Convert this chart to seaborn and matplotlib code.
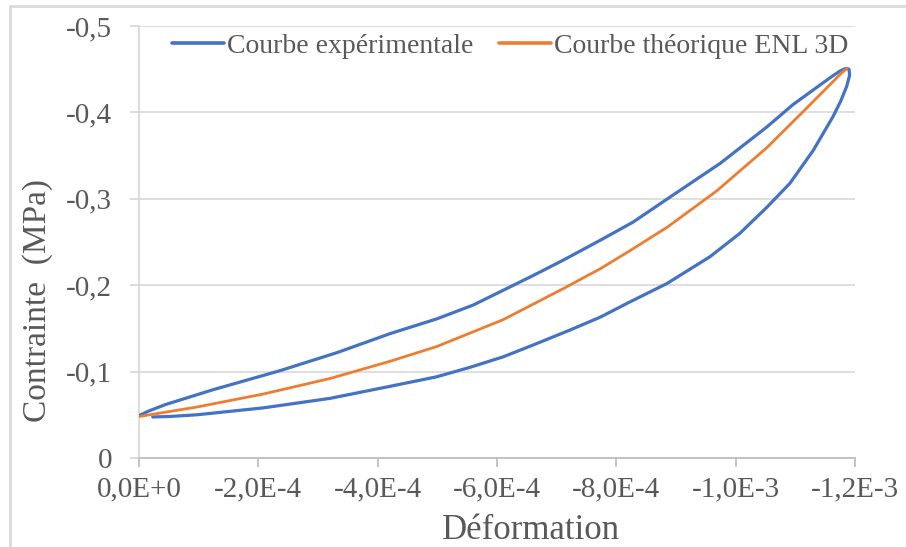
import matplotlib
matplotlib.use("Agg")
import matplotlib.pyplot as plt
from matplotlib.lines import Line2D
from matplotlib.ticker import FuncFormatter
import seaborn as sns
import pandas as pd

# Experimental hysteresis loop: loading branch, then unloading branch
exp_strain = [0.0, -0.015e-3, -0.045e-3, -0.124e-3, -0.236e-3, -0.332e-3, -0.421e-3,
              -0.499e-3, -0.560e-3, -0.610e-3, -0.660e-3, -0.711e-3, -0.773e-3,
              -0.828e-3, -0.890e-3, -0.974e-3, -1.052e-3, -1.096e-3, -1.136e-3,
              -1.160e-3, -1.175e-3, -1.185e-3, -1.190e-3, -1.191e-3,
              -1.186e-3, -1.176e-3, -1.163e-3, -1.130e-3, -1.091e-3, -1.052e-3,
              -1.007e-3, -0.957e-3, -0.885e-3, -0.818e-3, -0.773e-3, -0.722e-3,
              -0.665e-3, -0.610e-3, -0.555e-3, -0.499e-3, -0.421e-3, -0.320e-3,
              -0.208e-3, -0.097e-3, -0.050e-3, -0.023e-3]
exp_stress = [-0.049, -0.054, -0.062, -0.079, -0.101, -0.122, -0.144,
              -0.161, -0.177, -0.194, -0.211, -0.229, -0.252,
              -0.273, -0.302, -0.341, -0.383, -0.409, -0.429,
              -0.441, -0.448, -0.451, -0.450, -0.443,
              -0.430, -0.413, -0.395, -0.356, -0.318, -0.290,
              -0.260, -0.233, -0.202, -0.179, -0.163, -0.148,
              -0.132, -0.117, -0.105, -0.094, -0.083, -0.069,
              -0.058, -0.050, -0.048, -0.0475]

# Theoretical ENL 3D curve
th_strain = [0.0, -0.097e-3, -0.208e-3, -0.320e-3, -0.421e-3, -0.499e-3,
             -0.610e-3, -0.711e-3, -0.773e-3, -0.823e-3, -0.885e-3, -0.968e-3,
             -1.052e-3, -1.119e-3, -1.178e-3, -1.187e-3]
th_stress = [-0.048, -0.059, -0.074, -0.092, -0.112, -0.129,
             -0.160, -0.196, -0.219, -0.240, -0.267, -0.309,
             -0.359, -0.405, -0.446, -0.451]

x_ticks = [0.0, -2e-4, -4e-4, -6e-4, -8e-4, -1e-3, -1.2e-3]
y_ticks = [0.0, -0.1, -0.2, -0.3, -0.4, -0.5]

label_exp = "Courbe expérimentale"
label_th = "Courbe théorique ENL 3D"

exp_df = pd.DataFrame({"strain": exp_strain, "stress": exp_stress})
th_df = pd.DataFrame({"strain": th_strain, "stress": th_stress})

sns.set_style("white")
plt.rcParams["font.family"] = ["Liberation Serif", "DejaVu Serif"]

TXT = "#595959"
GRID = "#D9D9D9"
AXIS = "#BFBFBF"
BLUE = "#4472C4"
ORANGE = "#ED7D31"

fig = plt.figure(figsize=(9.06, 5.47), dpi=100)
ax = fig.add_axes([139 / 906, 1 - 458 / 547, (855 - 139) / 906, (458 - 26) / 547])

sns.lineplot(data=exp_df, x="strain", y="stress", sort=False, estimator=None,
             color=BLUE, linewidth=2.3, label=label_exp, ax=ax, zorder=3)
sns.lineplot(data=th_df, x="strain", y="stress", sort=False, estimator=None,
             color=ORANGE, linewidth=2.0, label=label_th, ax=ax, zorder=4)
for ln in ax.get_lines():
    ln.set_solid_joinstyle("round")
    ln.set_solid_capstyle("round")

ax.set_xlim(x_ticks[0], x_ticks[-1])
ax.set_ylim(y_ticks[0], y_ticks[-1])
ax.set_xticks(x_ticks)
ax.set_yticks(y_ticks)


def fmt_x(v, pos):
    if abs(v) < 1e-12:
        v = 0.0
    m, e = f"{v:.1E}".split("E")
    ei = int(e)
    return f"{m.replace('.', ',')}E{'+' if ei >= 0 else '-'}{abs(ei)}"


def fmt_y(v, pos):
    if abs(v) < 1e-12:
        return "0"
    return f"{v:.1f}".replace(".", ",")


ax.xaxis.set_major_formatter(FuncFormatter(fmt_x))
ax.yaxis.set_major_formatter(FuncFormatter(fmt_y))

ax.grid(axis="y", color=GRID, linewidth=1.2, zorder=0)
ax.grid(axis="x", visible=False)
ax.set_axisbelow(True)

for s in ("top", "right"):
    ax.spines[s].set_visible(False)
ax.spines["left"].set_color(GRID)
ax.spines["left"].set_linewidth(1.3)
ax.spines["bottom"].set_color(AXIS)
ax.spines["bottom"].set_linewidth(1.3)

ax.tick_params(axis="x", which="major", direction="out", length=6.5, width=1.3,
               color=AXIS, labelcolor=TXT, labelsize=21, pad=7, bottom=True)
ax.tick_params(axis="y", which="major", direction="out", length=6.5, width=1.3,
               color=GRID, labelcolor=TXT, labelsize=21, pad=13, left=True)

ax.set_xlabel("")
ax.set_ylabel("")
fig.text(531 / 906, 1 - 539 / 547, "Déformation", ha="center", va="baseline",
         fontsize=25, color=TXT)
fig.text(38 / 906, 1 - 300 / 547, "Contrainte  (MPa)", ha="center", va="center",
         rotation=90, fontsize=24, color=TXT)

leg = ax.legend(loc="center left", bbox_to_anchor=(172 / 906, 1 - 46 / 547),
                bbox_transform=fig.transFigure, ncol=2, frameon=False,
                fontsize=20, handlelength=1.87, handletextpad=0.12,
                columnspacing=0.9, borderpad=0, borderaxespad=0)
for t in leg.get_texts():
    t.set_color(TXT)
for h in leg.legend_handles:
    h.set_linewidth(2.6)

# Outer frame around the chart area
fig.add_artist(Line2D([10 / 906, 1.0], [1 - 6 / 547, 1 - 6 / 547],
                      transform=fig.transFigure, color=GRID, linewidth=2))
fig.add_artist(Line2D([10 / 906, 10 / 906], [0.0, 1 - 6 / 547],
                      transform=fig.transFigure, color=GRID, linewidth=2))

fig.savefig("out.png", dpi=100, facecolor="white")
